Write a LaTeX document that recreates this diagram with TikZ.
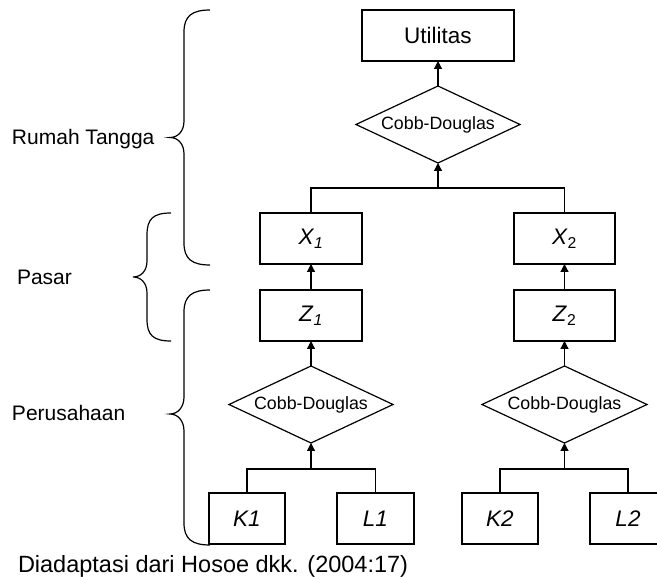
\documentclass[tikz,border=0pt]{standalone}
\usepackage{fontspec}
\setmainfont{Liberation Sans}
\usetikzlibrary{arrows.meta,shapes.geometric}
\begin{document}
\begin{tikzpicture}[x=1pt,y=-1pt,
  every node/.style={inner sep=0pt, outer sep=0pt},
  box/.style={draw, line width=1.2pt, rectangle, minimum height=51pt, font=\fontsize{22.5}{26}\selectfont},
  cd/.style={draw, line width=1.2pt, diamond, aspect=2.13, minimum width=164pt, minimum height=77pt, font=\fontsize{17.8}{21}\selectfont},
  conn/.style={line width=1.2pt},
  arr/.style={line width=1.2pt, -{Triangle[length=8pt,width=8pt]}},
  brace/.style={line width=1.2pt},
  lbl/.style={anchor=base west, font=\fontsize{21}{25}\selectfont}
]
\useasboundingbox (0,0) rectangle (657,577);

% top level
\node[box, minimum width=152pt] (util) at (438,35.5) {Utilitas};
\node[cd] (cd0) at (438,124.5) {Cobb-Douglas};
\node[box, minimum width=102pt] (x1) at (311,238.5) {\textit{X}\textsubscript{\textit{1}}};
\node[box, minimum width=101pt] (x2) at (564.5,238.5) {\textit{X}\textsubscript{2}};
\node[box, minimum width=102pt] (z1) at (311,315.5) {\textit{Z}\textsubscript{\textit{1}}};
\node[box, minimum width=101pt] (z2) at (564.5,315.5) {\textit{Z}\textsubscript{2}};
\node[cd] (cd1) at (311,404.5) {Cobb-Douglas};
\node[cd, minimum width=165pt] (cd2) at (564.5,404.5) {Cobb-Douglas};
\node[box, minimum width=76pt] (k1) at (247,518.5) {\textit{K1}};
\node[box, minimum width=77pt] (l1) at (375.5,518.5) {\textit{L1}};
\node[box, minimum width=76pt] (k2) at (500,518.5) {\textit{K2}};
\node[box, minimum width=76pt] (l2) at (628,518.5) {\textit{L2}};

\coordinate (j0) at (438,188);
\coordinate (j1) at (311,469);
\coordinate (j2) at (564.5,469);

% connectors
\draw[arr] (cd0.north) -- (util.south);
\draw[conn] (x1.north) |- (j0) -| (x2.north);
\draw[arr] (j0) -- (cd0.south);
\draw[arr] (z1.north) -- (x1.south);
\draw[arr] (z2.north) -- (x2.south);
\draw[arr] (cd1.north) -- (z1.south);
\draw[arr] (cd2.north) -- (z2.south);
\draw[conn] (k1.north) |- (j1) -| (l1.north);
\draw[conn] (k2.north) |- (j2) -| (l2.north);
\draw[arr] (j1) -- (cd1.south);
\draw[arr] (j2) -- (cd2.south);

% braces
\draw[brace] (210,10) .. controls (192,10) and (184,16) .. (184,32) -- (184,121)
  .. controls (184,131) and (178,137.5) .. (170,137.5)
  .. controls (178,137.5) and (184,144) .. (184,154) -- (184,243)
  .. controls (184,259) and (192,265) .. (210,265);
\draw[brace] (171,213) .. controls (153,213) and (147,219) .. (147,235) -- (147,261)
  .. controls (147,271) and (141,277) .. (133,277)
  .. controls (141,277) and (147,283) .. (147,293) -- (147,319)
  .. controls (147,335) and (153,341) .. (171,341);
\draw[brace] (210,290) .. controls (192,290) and (184,296) .. (184,312) -- (184,397)
  .. controls (184,407) and (178,414) .. (170,414)
  .. controls (178,414) and (184,421) .. (184,431) -- (184,523)
  .. controls (184,539) and (192,545) .. (210,545);

% labels
\node[lbl] (rt) at (12,144.5) {Rumah Tangga};
\node[lbl] (ps) at (17,284.5) {Pasar};
\node[lbl] (pr) at (12,420.5) {Perusahaan};
\node[lbl, font=\fontsize{23.5}{27}\selectfont] (cap) at (18,573) {Diadaptasi dari Hosoe dkk. (2004:17)};
\end{tikzpicture}
\end{document}
